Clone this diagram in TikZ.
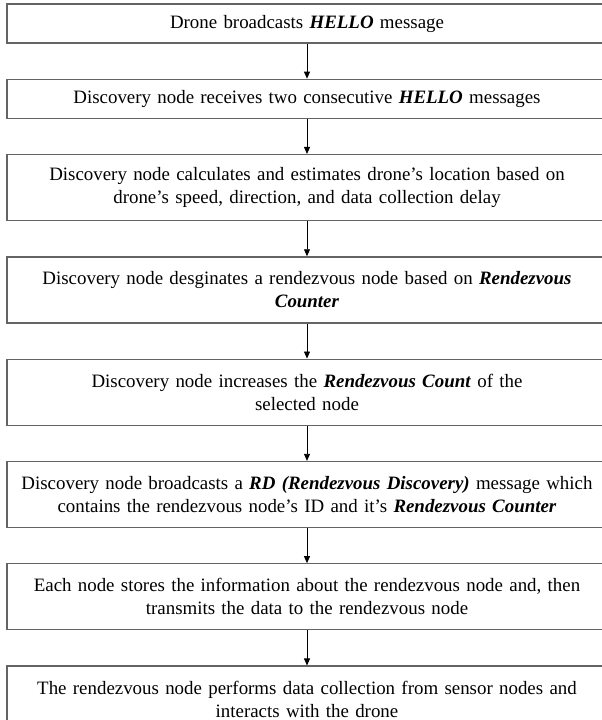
\documentclass[tikz,border=0pt]{standalone}
\usepackage{fontspec}
\setmainfont{Liberation Serif}
\usetikzlibrary{positioning}
\usetikzlibrary{arrows.meta}
\definecolor{boxgray}{RGB}{100,100,100}
\newcommand{\kw}[1]{\textbf{\textit{#1}}}

\begin{document}
\begin{tikzpicture}[x=1pt,y=1pt,
    stepbox/.style={draw=boxgray, line width=1.3pt, minimum width=600pt, text width=590pt,
      align=center, inner sep=0pt, font=\fontsize{18.9}{22.8}\selectfont},
    one/.style={stepbox, minimum height=39pt},
    two/.style={stepbox, minimum height=66pt},
    flow/.style={-{Triangle[length=7pt,width=6pt]}, line width=0.8pt},
    node distance=35pt]
    \useasboundingbox (0,0) rectangle (602,-720);

    % Steps
    \node[one] (hello) at (307,-23.5) {Drone broadcasts \kw{HELLO} message};
    \node[one, below=of hello] (receive) {Discovery node receives two consecutive \kw{HELLO} messages};
    \node[two, below=of receive] (estimate) {Discovery node calculates and estimates drone’s location based on\\drone’s speed, direction, and data collection delay};
    \node[two, below=of estimate] (designate) {Discovery node desginates a rendezvous node based on \kw{Rendezvous}\\\kw{Counter}};
    \node[two, below=of designate] (increase) {Discovery node increases the \kw{Rendezvous Count} of the\\selected node};
    \node[two, below=of increase] (rdmsg) {Discovery node broadcasts a \kw{RD (Rendezvous Discovery)} message which\\contains the rendezvous node’s ID and it’s \kw{Rendezvous Counter}};
    \node[two, below=of rdmsg] (store) {Each node stores the information about the rendezvous node and, then\\transmits the data to the rendezvous node};
    \node[two, below=of store] (collect) {The rendezvous node performs data collection from sensor nodes and\\interacts with the drone};

    % Arrows
    \draw[flow] (hello) -- (receive);
    \draw[flow] (receive) -- (estimate);
    \draw[flow] (estimate) -- (designate);
    \draw[flow] (designate) -- (increase);
    \draw[flow] (increase) -- (rdmsg);
    \draw[flow] (rdmsg) -- (store);
    \draw[flow] (store) -- (collect);
\end{tikzpicture}
\end{document}
